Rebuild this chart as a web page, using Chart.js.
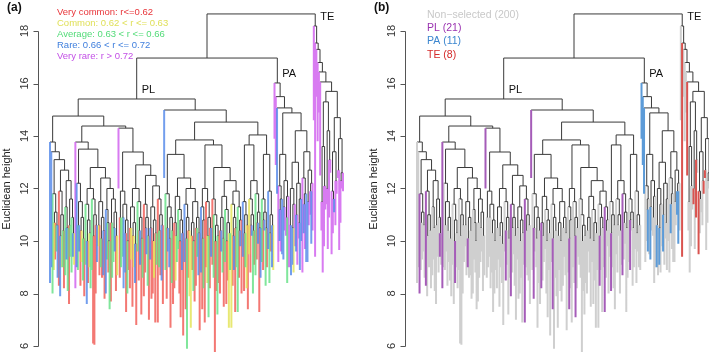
<!DOCTYPE html>
<html>
<head>
<meta charset="utf-8">
<script src="https://cdn.jsdelivr.net/npm/chart.js@4.4.1/dist/chart.umd.min.js"></script>
<style>
  html, body { margin: 0; padding: 0; background: #fff; }
  #wrap { position: relative; width: 709px; height: 353px; overflow: hidden; }
  .panel { position: absolute; top: 0; width: 367px; height: 353px; }
</style>
</head>
<body>
<div id="wrap">
  <div class="panel" style="left:0"><canvas id="chartA" width="367" height="353"></canvas></div>
  <div class="panel" style="left:367px"><canvas id="chartB" width="367" height="353"></canvas></div>
</div>
<script>
// Dendrogram in a small newick-like form: "(left,right)height".
// A leaf is its rarity code + the height its branch hangs down to; "*" = selected in panel (b).
const topology = "((PL,PA)16.97,TE)18.65";
const cladePL = "((P1,(P2a,(v12.0*,P2c)14.3)14.38)14.76,(b12.4*,((P4a1,P4a2)13.85,(P4b1,P4b2)14.04)14.53)14.99)15.41";
const cladeP1 = "(b8.4,(b9.0,((g8.0*,((y8.9,r9.3)10.7,(g9.6,b8.6)10.6)11.1)11.8,((r8.3*,((b7.9,y9.0)10.2,(g9.0,r8.2)10.4)11.0)11.9,((g8.7,(b9.3,g8.1)10.5)11.3,((r7.6,g9.4)10.6,(g8.8,(b9.4*,y9.1)10.3)10.9)11.6)12.3)12.7)13.1)13.4)13.77";
const cladeP2a = "(v8.2*,((b9.0,((g8.9,b9.6)10.6,((r8.3,y9.2)10.4,(g8.5,r7.9)10.1)10.9)11.5)12.2,(((g9.1,((b7.6,r8.4*)10.0,(y9.0,g8.2)10.3)10.8)11.4,(g8.9,((r6.1,r6.05)10.2,(r8.0,b9.2)10.6)11.0)11.6)12.0,(((y9.8,r8.7)10.6,((g9.0*,r8.6)10.1,(b8.7,r7.8)10.4)10.9)11.5,((b8.0,(g9.3,(r8.8,g7.4)10.0)10.7)11.2,((r7.7,g8.6)10.7,((g9.2,b9.6)10.5,(r8.1,y8.7)10.2)11.1)11.6)12.0)12.4)12.8)13.5)13.77";
const cladeP2c = "(((r8.6,g9.0)10.9,((g9.4,b8.2)10.9,((b8.8,r7.3)10.3,(g8.0,r8.9)10.0)10.8)11.4)11.9,((((r8.2,y9.3)10.5,((r7.5,y9.0)10.2,(b8.4,r6.8)9.9)10.7)11.3,(g9.6,((r8.5*,b9.1)10.4,(r7.2,g8.6)10.1)10.9)11.5)12.0,((r7.9*,((r8.8,b9.5)10.5,(g8.3,r7.0)10.2)10.9)11.4,(((b9.3,r7.8)10.5,((r8.0,y8.6)10.0,(r6.9,g9.1)10.3)10.8)11.3,(r6.9*,((g9.0,r8.7)10.4,(b8.5,r7.6)10.6)11.0)11.6)12.1)12.5)12.9)13.39";
const cladeP4a1 = "((g8.9,((r7.8*,b9.6)10.5,((b9.0,r6.7)10.1,(g8.4,r7.6)10.4)10.9)11.3)11.8,(((r8.2*,(y8.5,g9.2)10.2)10.7,(g9.7,((r8.0,r7.1)10.0,(b8.9,r6.4)10.3)10.8)11.2)11.7,((b9.2,((r7.4*,g5.9)10.1,(r8.6,y7.9)10.4)10.9)11.4,(((y6.7,r8.9)10.2,(g8.1,r7.7)10.0)10.7,((r8.3,g9.4)10.5,(b8.7,r6.6)10.3)10.9)11.5)12.0)12.4)13.3";
const cladeP4a2 = "(((b8.8,((r7.4*,g8.2)10.1,r6.9)10.8)11.3,(r9.0,((y8.4,g7.1*)10.2,(r8.2,b9.4)10.5)10.9)11.5)12.0,((r9.1,(g8.6,((r5.77,r8.1)10.0,(g7.2,r8.4)10.2)10.6)11.0)11.6,((((r8.0,b9.6)10.4,(g8.8,r7.5)10.1)10.9,(g9.2,((r7.6,r8.5)10.0,(y6.7,g8.9)10.3)10.7)11.2)11.7,((y6.7,((r8.3*,b8.9)10.2,(r7.3,g9.0)10.5)10.9)11.4,(g7.3*,((r8.6,b9.8)10.4,r8.0)10.8)11.3)11.9)12.3)12.8)13.66";
const cladeP4b1 = "((b9.4,((r8.1*,g9.0)10.3,(y8.2,r7.4)10.6)11.0)11.5,((y9.5,((r8.8,b10.2)10.6,(g8.0,r9.1)10.4)11.0)11.6,(g8.7*,((r9.3,b9.9)10.7,(r7.3,b8.6)10.5)11.1)11.8)12.3)13.66";
const cladeP4b2 = "((g9.2,((r8.9*,b10.4)10.8,(g8.3,r9.0)10.5)11.1)11.6,(b9.7,((g8.4,r9.6)10.3,(b9.0,y8.9)10.6)11.0)11.9)13.3";
const cladePA = "(v13.9*,(v12.9*,(b11.8*,(((v9.2,((b10.0,v9.6*)11.2,b9.5)11.6)12.1,((b9.3*,v10.4)11.3,((v10.2,g8.4)10.9,v9.0)11.7)12.3)13.3,((((v9.0*,b8.7)10.6,((b9.1*,y8.8)10.5,v9.8)11.4)12.0,((b9.6*,v9.1)11.0,((v10.1,b8.9)10.7,b10.0)11.6)12.2)13.0,((v8.8,((b10.3*,v9.7)11.4,b9.2)11.8)12.4,((b9.2,v10.6)11.5,((v11.0*,b9.9*)11.9,v10.4)12.2)12.7)13.4)14.2)14.88)15.07)15.5)16.02";
const cladeTE = "(v14.6,(v9.4*,(v15.5,(v13.8,(v14.9,(v12.5*,((((v10.4,v8.8)11.5,(v9.8,v11.2)12.1)13.6,((v11.4*,v9.7)12.0,(v10.9*,v12.6)13.1)14.2)15.3,(((v9.5*,(v10.3,b11.1)11.6)11.9,(v10.6,v11.8*)12.3)13.4,((v12.4*,v9.66)12.7,((v10.7,v12.0)12.3,v11.9*)12.6)13.9)14.7)15.7)16.06)16.44)16.8)17.3)17.54)18.19";

const subtrees = {
  PL: cladePL, PA: cladePA, TE: cladeTE, P1: cladeP1, P2a: cladeP2a, P2c: cladeP2c,
  P4a1: cladeP4a1, P4a2: cladeP4a2, P4b1: cladeP4b1, P4b2: cladeP4b2
};
const groups = ['PL', 'PA', 'TE'];

const rarityCodes = ['r', 'y', 'g', 'b', 'v'];
const rarityLabels = ['Very common: r<=0.62', 'Common: 0.62 < r <= 0.63', 'Average: 0.63 < r <= 0.66',
                      'Rare: 0.66 < r <= 0.72', 'Very rare: r > 0.72'];
const rarityText = ['#e8353a', '#e0e05a', '#52db78', '#3f7fdd', '#c24fe6'];
const rarityLines = ['rgba(240,86,80,0.8)', 'rgba(228,228,90,0.85)', 'rgba(96,224,130,0.8)',
                     'rgba(80,134,232,0.8)', 'rgba(206,90,238,0.8)'];

const selectionLabels = ['Non\u2212selected (200)', 'PL (21)', 'PA (11)', 'TE (8)'];
const selectionText = ['#c8c8c8', '#9a33b0', '#3b86cf', '#d42a2a'];
const selectionLines = ['#cfcfcf', '#a55cb8', '#5c9bd8', '#d9534f'];

const yTicks = [6, 8, 10, 12, 14, 16, 18];

function parse(src, group) {
  let i = 0;
  const num = () => { const m = src.slice(i).match(/^[0-9.]+/); i += m[0].length; return +m[0]; };
  function node() {
    const c = src[i];
    if (c === '(') {
      i++; const a = node(); i++; const b = node(); i++;
      return { kids: [a, b], h: num() };
    }
    if (c >= 'A' && c <= 'Z') {
      const name = src.slice(i).match(/^[A-Za-z0-9]+/)[0];
      i += name.length;
      const isGroup = groups.includes(name);
      const sub = parse(subtrees[name], isGroup ? name : group);
      if (isGroup) sub.name = name;
      return sub;
    }
    i++;
    const bottom = num();
    const sel = src[i] === '*';
    if (sel) i++;
    return { code: c, bottom, sel, group };
  }
  return node();
}

const root = parse(topology, 'PL');
const leaves = [];
const named = {};
(function place(n) {
  if (n.kids) { n.kids.forEach(place); n.x = (n.kids[0].x + n.kids[1].x) / 2; }
  else { n.x = leaves.length; leaves.push(n); }
  if (n.name) named[n.name] = n;
})(root);

// scale ranges: leaves from px 50 to 343, height 18 at px 31 and 6 at px 346
const leafStep = 293 / (leaves.length - 1);
const xMin = -50 / leafStep, xMax = xMin + 367 / leafStep;
const yMax = 18 + 31 / 26.25, yMin = 6 - 7 / 26.25;

function buildDatasets(colourOf, orderOf) {
  const skel = [];
  const byColour = new Map();
  const seg = (arr, x0, y0, x1, y1) => arr.push({ x: x0, y: y0 }, { x: x1, y: y1 }, { x: x1, y: null });
  (function walk(n) {
    if (!n.kids) return;
    const [a, b] = n.kids;
    seg(skel, a.x, n.h, b.x, n.h);
    n.kids.forEach(k => {
      if (k.kids) { seg(skel, k.x, k.h, k.x, n.h); walk(k); }
      else {
        const col = colourOf(k);
        if (!byColour.has(col)) byColour.set(col, []);
        seg(byColour.get(col), k.x, k.bottom, k.x, n.h);
      }
    });
  })(root);
  const common = { pointRadius: 0, fill: false, tension: 0, spanGaps: false, borderCapStyle: 'butt' };
  const sets = [{ ...common, data: skel, borderColor: '#3a3a3a', borderWidth: 1, order: 3 }];
  byColour.forEach((pts, col) => sets.push({ ...common, data: pts, borderColor: col, borderWidth: 2, order: orderOf(col) }));
  return sets;
}

const panelText = {
  id: 'panelText',
  afterDatasetsDraw(chart, args, o) {
    const { ctx } = chart;
    const sx = chart.scales.x, sy = chart.scales.y;
    const font = s => s + 'px "Liberation Sans", Arial, sans-serif';
    const axisX = 38.5;
    ctx.save();
    ctx.strokeStyle = '#555';
    ctx.lineWidth = 1;
    ctx.beginPath();
    ctx.moveTo(axisX, Math.round(sy.getPixelForValue(yTicks[0])) + 0.5);
    ctx.lineTo(axisX, Math.round(sy.getPixelForValue(yTicks[yTicks.length - 1])) + 0.5);
    yTicks.forEach(t => {
      const py = Math.round(sy.getPixelForValue(t)) + 0.5;
      ctx.moveTo(axisX, py); ctx.lineTo(axisX - 5, py);
    });
    ctx.stroke();
    ctx.fillStyle = '#333';
    ctx.font = font(11);
    ctx.textAlign = 'center';
    ctx.textBaseline = 'middle';
    yTicks.forEach(t => {
      ctx.save();
      ctx.translate(25, sy.getPixelForValue(t));
      ctx.rotate(-Math.PI / 2);
      ctx.fillText(String(t), 0, 0);
      ctx.restore();
    });
    ctx.save();
    ctx.translate(7, 189);
    ctx.rotate(-Math.PI / 2);
    ctx.fillStyle = '#222';
    ctx.fillText('Euclidean height', 0, 0);
    ctx.restore();

    ctx.textAlign = 'left';
    ctx.textBaseline = 'top';
    ctx.fillStyle = '#111';
    ctx.font = 'bold ' + font(12);
    ctx.fillText(o.tag, 7, 2);

    ctx.textBaseline = 'middle';
    ctx.font = font(o.size);
    o.items.forEach((s, i) => {
      ctx.fillStyle = o.colours[i];
      ctx.fillText(s, o.x, o.y + i * o.dy);
    });

    ctx.font = font(11);
    ctx.fillStyle = '#111';
    groups.forEach(g => {
      const n = named[g];
      ctx.fillText(g, sx.getPixelForValue(n.x) + 5, sy.getPixelForValue(n.h) - 9);
    });
    ctx.restore();
  }
};

function makeChart(id, datasets, text) {
  return new Chart(document.getElementById(id), {
    type: 'line',
    data: { datasets },
    options: {
      responsive: false,
      animation: false,
      events: [],
      layout: { padding: 0 },
      scales: {
        x: { type: 'linear', display: false, min: xMin, max: xMax },
        y: { type: 'linear', display: false, min: yMin, max: yMax }
      },
      plugins: { legend: { display: false }, tooltip: { enabled: false }, panelText: text }
    },
    plugins: [panelText]
  });
}

makeChart('chartA',
  buildDatasets(k => rarityLines[rarityCodes.indexOf(k.code)], () => 1),
  { tag: '(a)', items: rarityLabels, colours: rarityText, x: 57, y: 12.7, dy: 11, size: 9.5 });

makeChart('chartB',
  buildDatasets(k => k.sel ? selectionLines[groups.indexOf(k.group) + 1] : selectionLines[0],
                col => col === selectionLines[0] ? 2 : 1),
  { tag: '(b)', items: selectionLabels, colours: selectionText, x: 60, y: 15, dy: 13.3, size: 10.5 });
</script>
</body>
</html>
